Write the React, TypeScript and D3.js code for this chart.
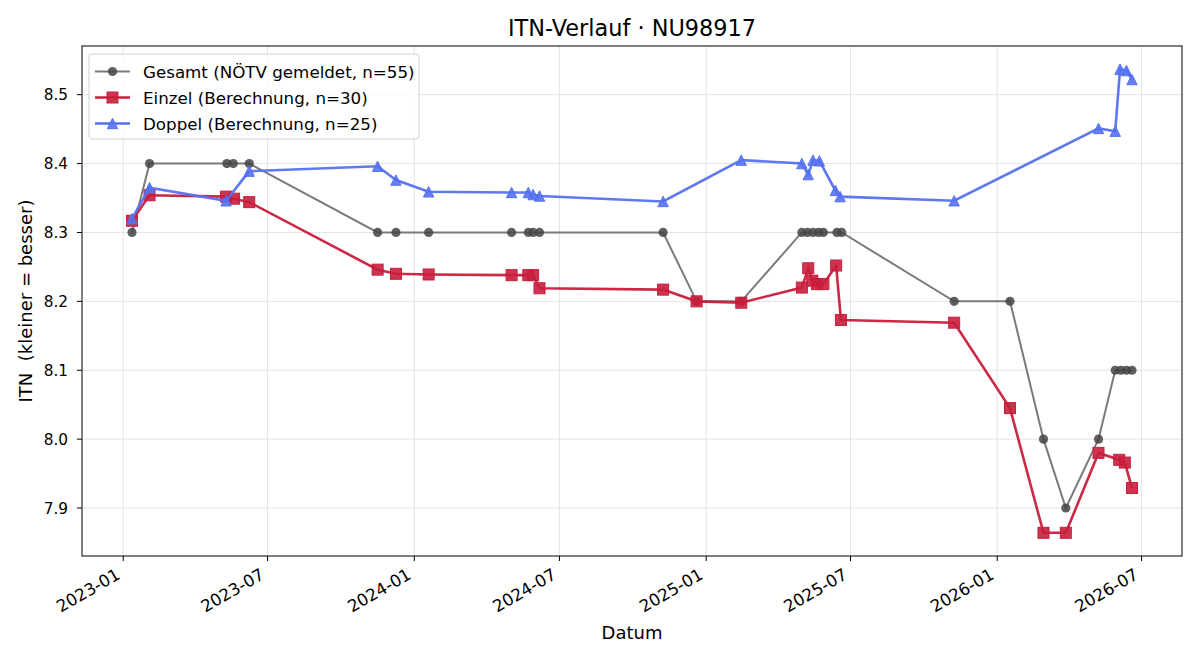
import React from 'react';
import * as d3 from 'd3';

// Gesamt (NÖTV gemeldet) – visible, distinct points
const gesamtDates = [
  '2023-01-12', '2023-02-03', '2023-05-11', '2023-05-19', '2023-06-08',
  '2023-11-16', '2023-12-09', '2024-01-19', '2024-05-02', '2024-05-23',
  '2024-05-29', '2024-06-06', '2024-11-08', '2024-12-20', '2025-02-14',
  '2025-05-01', '2025-05-08', '2025-05-15', '2025-05-22', '2025-05-28',
  '2025-06-14', '2025-06-20', '2025-11-08', '2026-01-17', '2026-02-28',
  '2026-03-28', '2026-05-08', '2026-05-29', '2026-06-05', '2026-06-12',
  '2026-06-19',
];
const gesamtValues = [
  8.3, 8.4, 8.4, 8.4, 8.4,
  8.3, 8.3, 8.3, 8.3, 8.3,
  8.3, 8.3, 8.3, 8.2, 8.2,
  8.3, 8.3, 8.3, 8.3, 8.3,
  8.3, 8.3, 8.2, 8.2, 8.0,
  7.9, 8.0, 8.1, 8.1, 8.1,
  8.1,
];

// Einzel (Berechnung)
const einzelDates = [
  '2023-01-12', '2023-02-03', '2023-05-10', '2023-05-20', '2023-06-08',
  '2023-11-16', '2023-12-09', '2024-01-19', '2024-05-02', '2024-05-23',
  '2024-05-29', '2024-06-06', '2024-11-08', '2024-12-20', '2025-02-14',
  '2025-05-01', '2025-05-09', '2025-05-14', '2025-05-20', '2025-05-28',
  '2025-06-13', '2025-06-19', '2025-11-08', '2026-01-17', '2026-02-28',
  '2026-03-28', '2026-05-08', '2026-06-03', '2026-06-10', '2026-06-19',
];
const einzelValues = [
  8.317, 8.354, 8.352, 8.349, 8.344,
  8.246, 8.240, 8.239, 8.238, 8.238,
  8.238, 8.219, 8.217, 8.200, 8.198,
  8.220, 8.248, 8.230, 8.225, 8.225,
  8.252, 8.173, 8.169, 8.045, 7.864,
  7.864, 7.980, 7.970, 7.966, 7.929,
];

// Doppel (Berechnung)
const doppelDates = [
  '2023-01-12', '2023-02-03', '2023-05-10', '2023-06-08', '2023-11-16',
  '2023-12-09', '2024-01-19', '2024-05-02', '2024-05-23', '2024-05-29',
  '2024-06-06', '2024-11-08', '2025-02-14', '2025-05-01', '2025-05-09',
  '2025-05-15', '2025-05-23', '2025-06-12', '2025-06-18', '2025-11-08',
  '2026-05-08', '2026-05-29', '2026-06-04', '2026-06-12', '2026-06-19',
];
const doppelValues = [
  8.320, 8.365, 8.346, 8.389, 8.396,
  8.376, 8.359, 8.358, 8.358, 8.355,
  8.353, 8.345, 8.405, 8.400, 8.384,
  8.405, 8.404, 8.361, 8.352, 8.346,
  8.451, 8.447, 8.537, 8.535, 8.522,
];

const yTicks = [7.9, 8.0, 8.1, 8.2, 8.3, 8.4, 8.5];
const xTickLabels = ['2023-01', '2023-07', '2024-01', '2024-07', '2025-01', '2025-07', '2026-01', '2026-07'];

const legendLabels = [
  'Gesamt (NÖTV gemeldet, n=55)',
  'Einzel (Berechnung, n=30)',
  'Doppel (Berechnung, n=25)',
];

const W = 1200;
const H = 660;
const margin = { top: 46, right: 18, bottom: 104, left: 82 };
const FONT = 'DejaVu Sans, sans-serif';

const GRAY_LINE = '#7a7a7a';
const GRAY_DOT = '#444444';
const RED = '#c81e3c';
const BLUE = '#5571f0';

type Pt = { date: Date; value: number };
const parse = d3.timeParse('%Y-%m-%d');
const toPts = (dates: string[], values: number[]): Pt[] =>
  dates.map((d, i) => ({ date: parse(d)!, value: values[i] }));

const trianglePath = (s: number) => `M0,${-s}L${-s},${s}L${s},${s}Z`;

export default function App() {
  const gesamt = toPts(gesamtDates, gesamtValues);
  const einzel = toPts(einzelDates, einzelValues);
  const doppel = toPts(doppelDates, doppelValues);
  const all = [...gesamt, ...einzel, ...doppel];

  const [d0, d1] = d3.extent(all, (d) => d.date) as [Date, Date];
  const dPad = (d1.getTime() - d0.getTime()) * 0.05;
  const x = d3
    .scaleTime()
    .domain([new Date(d0.getTime() - dPad), new Date(d1.getTime() + dPad)])
    .range([margin.left, W - margin.right]);

  const [v0, v1] = d3.extent(all, (d) => d.value) as [number, number];
  const vPad = (v1 - v0) * 0.05;
  const y = d3
    .scaleLinear()
    .domain([v0 - vPad, v1 + vPad])
    .range([H - margin.bottom, margin.top]);

  const line = d3
    .line<Pt>()
    .x((d) => x(d.date))
    .y((d) => y(d.value));

  const xTicks = xTickLabels.map((s) => d3.timeParse('%Y-%m')(s)!);
  const plotL = margin.left;
  const plotR = W - margin.right;
  const plotT = margin.top;
  const plotB = H - margin.bottom;

  return (
    <div style={{ position: 'absolute', left: 0, top: 0 }}>
      <svg width={W} height={H} style={{ display: 'block', background: '#fff' }} fontFamily={FONT}>
        {/* grid */}
        {xTicks.map((t, i) => (
          <line key={`gx${i}`} x1={x(t)} x2={x(t)} y1={plotT} y2={plotB} stroke="#e3e3e3" strokeWidth={1} />
        ))}
        {yTicks.map((t, i) => (
          <line key={`gy${i}`} x1={plotL} x2={plotR} y1={y(t)} y2={y(t)} stroke="#e3e3e3" strokeWidth={1} />
        ))}

        {/* Gesamt */}
        <path d={line(gesamt)!} fill="none" stroke={GRAY_LINE} strokeWidth={2} />
        {gesamt.map((d, i) => (
          <circle key={`g${i}`} cx={x(d.date)} cy={y(d.value)} r={4.6} fill={GRAY_DOT} fillOpacity={0.85} />
        ))}

        {/* Einzel */}
        <path d={line(einzel)!} fill="none" stroke={RED} strokeWidth={2.6} strokeOpacity={0.95} />
        {einzel.map((d, i) => (
          <rect
            key={`e${i}`}
            x={x(d.date) - 5.5}
            y={y(d.value) - 5.5}
            width={11}
            height={11}
            fill={RED}
            fillOpacity={0.9}
            stroke={RED}
            strokeWidth={1}
          />
        ))}

        {/* Doppel */}
        <path d={line(doppel)!} fill="none" stroke={BLUE} strokeWidth={2.6} strokeOpacity={0.95} />
        {doppel.map((d, i) => (
          <path
            key={`d${i}`}
            d={trianglePath(5.2)}
            transform={`translate(${x(d.date)},${y(d.value)})`}
            fill={BLUE}
            fillOpacity={0.9}
            stroke={BLUE}
            strokeWidth={1}
          />
        ))}

        {/* frame */}
        <rect x={plotL} y={plotT} width={plotR - plotL} height={plotB - plotT} fill="none" stroke="#000" strokeWidth={1} />

        {/* y axis */}
        {yTicks.map((t, i) => (
          <g key={`yt${i}`}>
            <line x1={plotL - 5} x2={plotL} y1={y(t)} y2={y(t)} stroke="#000" />
            <text x={plotL - 14} y={y(t)} dy="0.36em" textAnchor="end" fontSize={15.3} fill="#000">
              {d3.format('.1f')(t)}
            </text>
          </g>
        ))}

        {/* x axis */}
        {xTicks.map((t, i) => (
          <g key={`xt${i}`}>
            <line x1={x(t)} x2={x(t)} y1={plotB} y2={plotB + 5} stroke="#000" />
            <text
              transform={`translate(${x(t) - 2},${plotB + 22}) rotate(-30)`}
              textAnchor="end"
              fontSize={16.7}
              fill="#000"
            >
              {xTickLabels[i]}
            </text>
          </g>
        ))}

        {/* axis labels */}
        <text x={(plotL + plotR) / 2} y={639} textAnchor="middle" fontSize={18} fill="#000">
          Datum
        </text>
        <text
          transform={`translate(32,${(plotT + plotB) / 2}) rotate(-90)`}
          textAnchor="middle"
          fontSize={18}
          fill="#000"
          style={{ whiteSpace: 'pre' }}
        >
          ITN  (kleiner = besser)
        </text>

        {/* title */}
        <text x={(plotL + plotR) / 2} y={36} textAnchor="middle" fontSize={22.4} fill="#000">
          ITN-Verlauf · NU98917
        </text>

        {/* legend */}
        <g transform="translate(89,54)">
          <rect x={0} y={0} width={330} height={85} rx={3} fill="#fff" fillOpacity={0.8} stroke="#d0d0d0" />
          {legendLabels.map((lab, i) => {
            const cy = 17.5 + i * 26;
            return (
              <g key={`lg${i}`}>
                {i === 0 && (
                  <>
                    <line x1={6} x2={41} y1={cy} y2={cy} stroke={GRAY_LINE} strokeWidth={2} />
                    <circle cx={23.5} cy={cy} r={4.6} fill={GRAY_DOT} fillOpacity={0.85} />
                  </>
                )}
                {i === 1 && (
                  <>
                    <line x1={6} x2={41} y1={cy} y2={cy} stroke={RED} strokeWidth={2.6} />
                    <rect x={18} y={cy - 5.5} width={11} height={11} fill={RED} fillOpacity={0.9} stroke={RED} />
                  </>
                )}
                {i === 2 && (
                  <>
                    <line x1={6} x2={41} y1={cy} y2={cy} stroke={BLUE} strokeWidth={2.6} />
                    <path d={trianglePath(5.2)} transform={`translate(23.5,${cy})`} fill={BLUE} fillOpacity={0.9} stroke={BLUE} />
                  </>
                )}
                <text x={54} y={cy} dy="0.36em" fontSize={16.7} fill="#000">
                  {lab}
                </text>
              </g>
            );
          })}
        </g>
      </svg>
    </div>
  );
}
